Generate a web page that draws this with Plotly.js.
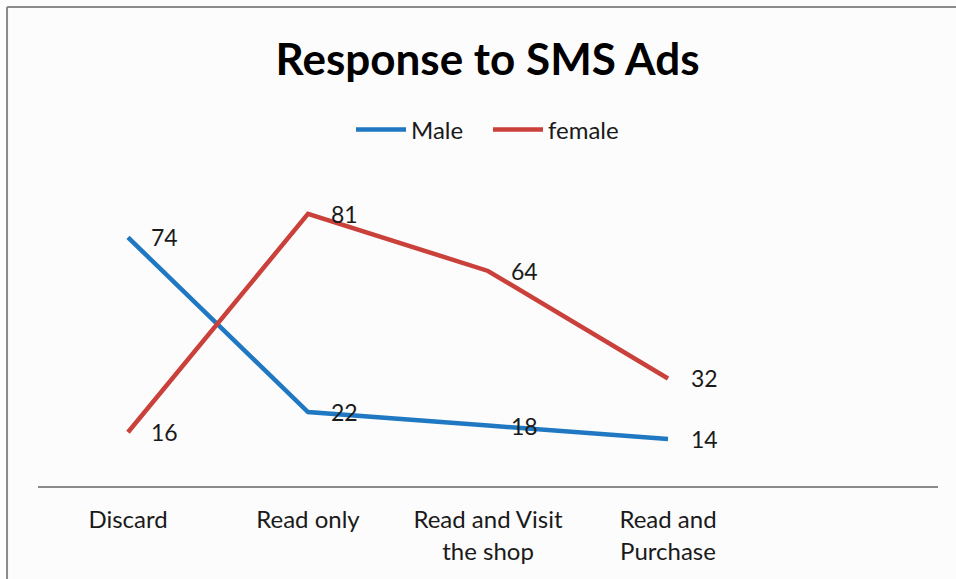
<!DOCTYPE html>
<html>
<head>
<meta charset="utf-8">
<script src="https://cdn.plot.ly/plotly-3.0.1.min.js"></script>
<style>
html,body{margin:0;padding:0;background:#fcfcfc;}
#chart{width:956px;height:579px;}
</style>
</head>
<body>
<div id="chart"></div>
<script>
var categories = ["Discard", "Read only", "Read and Visit<br>the shop", "Read and<br>Purchase"];
var maleValues = [74, 22, 18, 14];
var femaleValues = [16, 81, 64, 32];
var seriesNames = ["Male", "female"];
var colors = ["#1f78c1", "#c9413a"];

var xIdx = categories.map(function(_, i){ return i; });

var traces = [
  {x: xIdx, y: maleValues, name: seriesNames[0], mode: "lines", type: "scatter",
   line: {color: colors[0], width: 4.5}},
  {x: xIdx, y: femaleValues, name: seriesNames[1], mode: "lines", type: "scatter",
   line: {color: colors[1], width: 4.5}}
];

var annotations = [];
[maleValues, femaleValues].forEach(function(vals){
  vals.forEach(function(v, i){
    annotations.push({x: i, y: v, xref: "x", yref: "y", text: String(v),
      showarrow: false, xanchor: "left", yanchor: "middle", xshift: 21,
      font: {family: "Lato, 'Open Sans', sans-serif", size: 23, color: "#1a1a1a"}});
  });
});

var layout = {
  width: 956, height: 579,
  paper_bgcolor: "#fcfcfc", plot_bgcolor: "#fcfcfc",
  margin: {l: 38, r: 18, t: 150, b: 93},
  title: {text: "<b>Response to SMS Ads</b>", x: 0.51, xanchor: "center", y: 0.897, yanchor: "middle",
    font: {family: "Lato, 'Open Sans', sans-serif", size: 44, color: "#000"}},
  showlegend: true,
  legend: {orientation: "h", x: 0.5, xanchor: "center", y: 1.06, yanchor: "middle",
    font: {family: "Lato, 'Open Sans', sans-serif", size: 24, color: "#1a1a1a"},
    bgcolor: "rgba(0,0,0,0)", itemwidth: 50, entrywidth: 72, entrywidthmode: "pixels"},
  xaxis: {range: [-0.5, 4.5], tickmode: "array", tickvals: xIdx, ticktext: categories,
    showgrid: false, zeroline: false, showline: true, linecolor: "#8a8a8a", linewidth: 1.5,
    ticks: "", ticklabelstandoff: 12, fixedrange: true,
    tickfont: {family: "Lato, 'Open Sans', sans-serif", size: 24, color: "#1a1a1a"}},
  yaxis: {range: [0, 100], showgrid: false, zeroline: false, showline: false,
    showticklabels: false, ticks: "", fixedrange: true},
  annotations: annotations,
  shapes: [
    {type: "line", xref: "paper", yref: "paper", x0: -0.0344, x1: -0.0344, y0: -0.3, y1: 1.4256,
     line: {color: "#8a8a8a", width: 2}},
    {type: "line", xref: "paper", yref: "paper", x0: -0.0344, x1: 1.03, y0: 1.4256, y1: 1.4256,
     line: {color: "#8a8a8a", width: 2}}
  ]
};

Plotly.newPlot("chart", traces, layout, {displayModeBar: false, staticPlot: true});
</script>
</body>
</html>
